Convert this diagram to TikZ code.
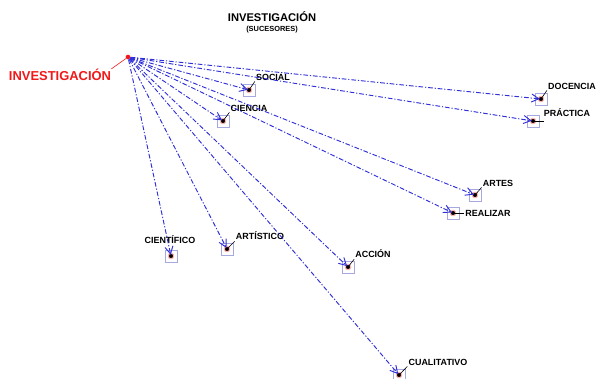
\documentclass[tikz,border=0pt]{standalone}
\usepackage{fontspec}
\setmainfont{Liberation Sans}
\usepackage{tikz}
\usetikzlibrary{arrows.meta}
\definecolor{linkcol}{HTML}{3030D8}
\definecolor{rootcol}{HTML}{F01818}
\definecolor{boxcol}{HTML}{A8A8E0}

\begin{document}
\begin{tikzpicture}[x=0.85pt, y=-0.85pt,
  term/.style={draw=boxcol, line width=0.6pt, minimum size=10pt, inner sep=0pt},
  dot/.style={circle, fill=black, draw=red!30, line width=0.9pt, inner sep=0pt, minimum size=4.6pt},
  lbl/.style={font=\bfseries\fontsize{7.6}{8}\selectfont, inner sep=0pt},
  succ/.style={-{Straight Barb[length=2.2mm, width=2.4mm]}, line width=0.8pt, linkcol,
    dash pattern=on 4pt off 1.6pt on 1pt off 1.6pt, shorten >=1pt},
  leader/.style={black, line width=0.5pt}]
\useasboundingbox (0,0) rectangle (597,379);
% title
\node[font=\bfseries\fontsize{9.5}{11}\selectfont] (title) at (272,17) {INVESTIGACIÓN};
\node[font=\bfseries\fontsize{6.3}{7}\selectfont] (subtitle) at (272,30) {(SUCESORES)};
% root
\node[circle, fill=rootcol, inner sep=0pt, minimum size=4pt] (hub) at (128,57) {};
\node[font=\bfseries\fontsize{11}{13}\selectfont, text=rootcol, inner sep=0pt] (root) at (60,75) {INVESTIGACIÓN};
\draw[rootcol, line width=0.5pt] (root.north east) -- (hub);
% successors
\node[term] (social) at (249,90) {};
\node[term] (docencia) at (541,99) {};
\node[term] (practica) at (533,121) {};
\node[term] (ciencia) at (223,121) {};
\node[term] (artes) at (475,195) {};
\node[term] (realizar) at (453,213) {};
\node[term] (cientifico) at (171,256) {};
\node[term] (artistico) at (227,249) {};
\node[term] (accion) at (348,267) {};
\node[term] (cualitativo) at (399,375) {};
\foreach \t in {social,docencia,practica,ciencia,artes,realizar,cientifico,artistico,accion,cualitativo}
  \node[dot] at (\t.center) {};
% labels
\node[lbl] (lsocial) at (273,77) {SOCIAL};
\node[lbl] (ldocencia) at (572,86) {DOCENCIA};
\node[lbl] (lpractica) at (567,113) {PRÁCTICA};
\node[lbl] (lciencia) at (249,108) {CIENCIA};
\node[lbl] (lartes) at (498,183) {ARTES};
\node[lbl] (lrealizar) at (488,213) {REALIZAR};
\node[lbl] (lcientifico) at (170,240) {CIENTÍFICO};
\node[lbl] (lartistico) at (260,236) {ARTÍSTICO};
\node[lbl] (laccion) at (373,254) {ACCIÓN};
\node[lbl] (lcualitativo) at (438,362) {CUALITATIVO};
% leaders
\foreach \t in {social,docencia,ciencia,artes,artistico,accion,cualitativo}
  \draw[leader] (\t.center) -- ([shift={(-1,1)}]l\t.south west);
\draw[leader] (practica.center) -- (practica.center -| lpractica.west);
\draw[leader] (realizar.center) -- ([xshift=-1pt]lrealizar.west);
% edges
\foreach \t in {social,docencia,practica,ciencia,artes,realizar,cientifico,artistico,accion,cualitativo}
  \draw[succ] (hub) -- (\t.center);
\end{tikzpicture}
\end{document}
